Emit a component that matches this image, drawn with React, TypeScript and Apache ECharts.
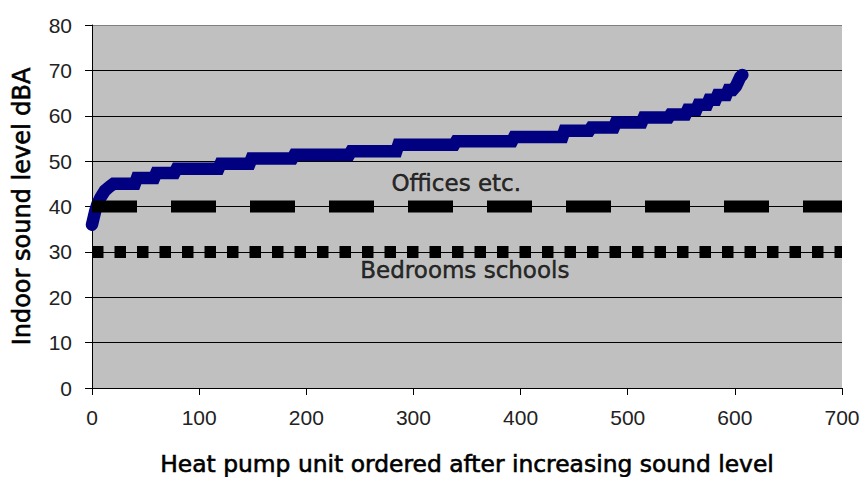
import { useEffect, useRef } from "react";
import * as echarts from "echarts";

// Heat pump units ordered by sound level (vertices of the plotted curve)
const unitIndex = [
  0, 1, 3, 5, 8, 12, 17, 20, 40, 42, 58, 60, 77, 79, 118, 120, 147, 149, 187, 189,
  240, 242, 284, 286, 338, 340, 392, 394, 439, 441, 464, 466, 487, 489, 513, 515,
  538, 540, 554, 556, 564, 566, 574, 576, 582, 584, 592, 594, 598, 601, 603, 605, 607,
];
const soundLevel = [
  36, 37, 39, 40.5, 42, 43.5, 44.5, 45, 45, 46.3, 46.3, 47.4, 47.4, 48.3, 48.3, 49.4, 49.4, 50.6, 50.6, 51.4,
  51.4, 52.2, 52.2, 53.6, 53.6, 54.4, 54.4, 55.3, 55.3, 56.7, 56.7, 57.4, 57.4, 58.5, 58.5, 59.6,
  59.6, 60.3, 60.3, 61.3, 61.3, 62.4, 62.4, 63.5, 63.5, 64.6, 64.6, 65.7, 65.7, 66.5, 67.5, 68.5, 69,
];

const xMin = 0;
const xMax = 700;
const xStep = 100;
const yMin = 0;
const yMax = 80;
const yStep = 10;

const officeLimit = 40;
const bedroomLimit = 30;
const limitSpan = [0, 700];

const limitLabels = ["Offices etc.", "Bedrooms schools"];
const limitLabelX = [340, 348];
const limitLabelY = [45.2, 26.1];

const xTitle = "Heat pump unit ordered after increasing sound level";
const yTitle = "Indoor sound level dBA";

const FONT = "'Liberation Sans', Arial, sans-serif";
const WIDE_FONT = "'DejaVu Sans', 'Liberation Sans', sans-serif";

export default function App() {
  const ref = useRef<HTMLDivElement>(null);

  useEffect(() => {
    if (!ref.current) return;
    const chart = echarts.init(ref.current, null, { renderer: "svg" });

    const curve = unitIndex.map((x, i) => [x, soundLevel[i]]);
    const gridColors: string[] = [];
    for (let v = yMin; v <= yMax; v += yStep) {
      gridColors.push(v === yMax ? "#808080" : "#000000");
    }

    const titleStyle = {
      fontFamily: WIDE_FONT,
      fontWeight: "normal",
      color: "#000",
      textBorderColor: "#000",
      textBorderWidth: 0.6,
    };

    chart.setOption({
      animation: false,
      backgroundColor: "#ffffff",
      textStyle: { fontFamily: FONT },
      grid: {
        left: 92,
        right: 23,
        top: 25,
        bottom: 89,
        show: true,
        backgroundColor: "#c0c0c0",
        borderWidth: 0,
        outerBoundsMode: "none",
      },
      xAxis: {
        type: "value",
        min: xMin,
        max: xMax,
        interval: xStep,
        name: xTitle,
        nameLocation: "middle",
        nameGap: 64,
        nameTextStyle: { ...titleStyle, fontSize: 23.4 },
        axisLine: { show: true, onZero: false, lineStyle: { color: "#000", width: 1 } },
        axisTick: { show: true, inside: false, length: 7, lineStyle: { color: "#000" } },
        axisLabel: { fontFamily: FONT, fontSize: 21, color: "#222", margin: 19 },
        splitLine: { show: false },
      },
      yAxis: {
        type: "value",
        min: yMin,
        max: yMax,
        interval: yStep,
        name: yTitle,
        nameLocation: "middle",
        nameGap: 58,
        nameTextStyle: { ...titleStyle, fontSize: 24 },
        axisLine: { show: true, onZero: false, lineStyle: { color: "#000", width: 1 } },
        axisTick: { show: true, inside: false, length: 7, lineStyle: { color: "#000" } },
        axisLabel: { fontFamily: FONT, fontSize: 21, color: "#222", margin: 20 },
        splitLine: { show: true, lineStyle: { color: gridColors, width: 1 } },
      },
      series: [
        {
          type: "line",
          data: curve,
          showSymbol: false,
          symbol: "none",
          lineStyle: { color: "#000080", width: 12.5, cap: "round", join: "miter" },
          z: 2,
        },
        {
          type: "line",
          data: limitSpan.map((x) => [x, officeLimit]),
          symbol: "none",
          lineStyle: { color: "#000", width: 12, type: [45, 34], cap: "butt" },
          z: 3,
        },
        {
          type: "line",
          data: limitSpan.map((x) => [x, bedroomLimit]),
          symbol: "none",
          lineStyle: { color: "#000", width: 12, type: [11.5, 11], cap: "butt" },
          z: 3,
        },
        {
          type: "scatter",
          data: limitLabels.map((name, i) => ({ name, value: [limitLabelX[i], limitLabelY[i]] })),
          symbolSize: 1,
          itemStyle: { color: "transparent" },
          label: {
            show: true,
            position: "inside",
            formatter: (p: any) => p.name,
            fontFamily: WIDE_FONT,
            fontSize: 23,
            color: "#000",
            textBorderColor: "#000",
            textBorderWidth: 0.5,
            align: "center",
            verticalAlign: "middle",
          },
          z: 4,
        },
      ],
    });

    return () => chart.dispose();
  }, []);

  return (
    <div
      ref={ref}
      style={{ position: "fixed", left: 0, top: 0, width: 865, height: 477 }}
    />
  );
}
